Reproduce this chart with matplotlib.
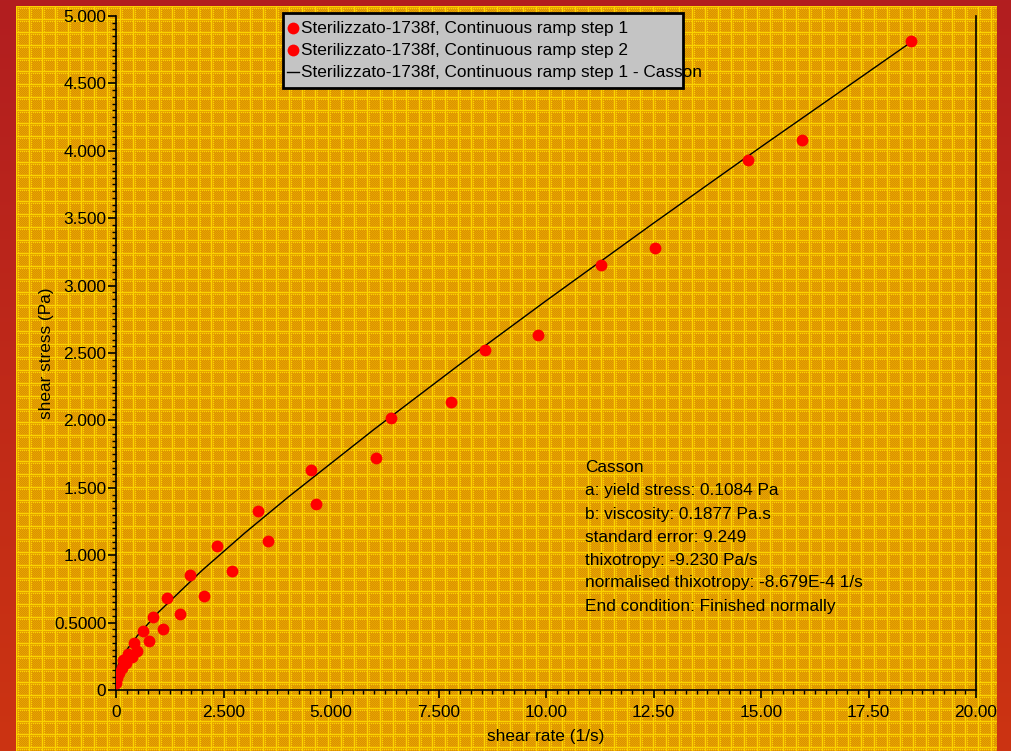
import numpy as np
import matplotlib
matplotlib.use("Agg")
import matplotlib.pyplot as plt
from matplotlib.ticker import MultipleLocator, FixedLocator, FixedFormatter
from matplotlib.patches import Rectangle
from matplotlib.lines import Line2D

plt.rcParams['font.family'] = ['Liberation Sans', 'DejaVu Sans']

# step 1 (up ramp)
rate_1 = [0.08, 0.17, 0.27, 0.42, 0.63, 0.86, 1.19, 1.72, 2.35, 3.30,
          4.53, 6.40, 8.58, 11.28, 14.70, 18.49]
stress_1 = [0.126, 0.22, 0.27, 0.35, 0.44, 0.54, 0.68, 0.85, 1.07, 1.33,
            1.63, 2.02, 2.52, 3.15, 3.93, 4.815]

# step 2 (down ramp)
rate_2 = [0.005, 0.03, 0.13, 0.23, 0.365, 0.49, 0.77, 1.09, 1.49, 2.05,
          2.70, 3.53, 4.65, 6.05, 7.79, 9.81, 12.53, 15.95]
stress_2 = [0.05, 0.089, 0.163, 0.198, 0.247, 0.29, 0.36, 0.45, 0.564, 0.70,
            0.88, 1.105, 1.38, 1.72, 2.14, 2.63, 3.28, 4.08]

# Casson fit line
fit_rate = [0, 0.05, 0.1, 0.25, 0.5, 1, 2, 3, 4, 6, 8, 10, 12.5, 15, 18.49]
fit_stress = [0.108, 0.182, 0.217, 0.298, 0.404, 0.581, 0.887, 1.166, 1.430,
              1.933, 2.417, 2.887, 3.463, 4.029, 4.806]

x_ticks = [0, 2.5, 5, 7.5, 10, 12.5, 15, 17.5, 20]
x_labels = ['0', '2.500', '5.000', '7.500', '10.00', '12.50', '15.00', '17.50', '20.00']
y_ticks = [0, 0.5, 1, 1.5, 2, 2.5, 3, 3.5, 4, 4.5, 5]
y_labels = ['0', '0.5000', '1.000', '1.500', '2.000', '2.500', '3.000',
            '3.500', '4.000', '4.500', '5.000']

legend_labels = ['Sterilizzato-1738f, Continuous ramp step 1',
                 'Sterilizzato-1738f, Continuous ramp step 2',
                 'Sterilizzato-1738f, Continuous ramp step 1 - Casson']

info_lines = ['Casson',
              'a: yield stress: 0.1084 Pa',
              'b: viscosity: 0.1877 Pa.s',
              'standard error: 9.249',
              'thixotropy: -9.230 Pa/s',
              'normalised thixotropy: -8.679E-4 1/s',
              'End condition: Finished normally']

FS = 12.4
MS = 8.5
W, H = 1012, 751
fig = plt.figure(figsize=(W / 100, H / 100), dpi=100)

# background: red frame with gradient, textured gold panel
img = np.zeros((H, W, 3))
t = np.linspace(0, 1, H)[:, None]
top = np.array([178, 30, 32]) / 255
bot = np.array([204, 52, 18]) / 255
img[:] = (top * (1 - t) + bot * t)[:, None, :]

tile = np.zeros((13, 13, 3))
base = np.array([232, 164, 0]) / 255
dark = np.array([218, 146, 0]) / 255
yel = np.array([250, 212, 0]) / 255
tile[:] = base
for i in range(13):
    for j in range(13):
        if 3 <= i <= 11 and 3 <= j <= 11 and (i + j) % 2 == 0:
            tile[i, j] = dark
tile[0, :] = yel
tile[:, 0] = yel
tile[2, ::2] = yel
tile[::2, 2] = yel
ph, pw = H - 6, 997 - 16
reps = np.tile(tile, (ph // 13 + 1, pw // 13 + 1, 1))[:ph, :pw]
img[6:, 16:997] = reps
fig.figimage(img, xo=0, yo=0, origin='upper', zorder=-10)

ax = fig.add_axes([116 / W, (H - 690) / H, (976 - 116) / W, (690 - 16) / H])
ax.patch.set_visible(False)
ax.set_zorder(2)

ax.plot(fit_rate, fit_stress, color='black', lw=1, zorder=2)
ax.plot(rate_1, stress_1, 'o', color='#ff0000', ms=MS, mec='none', zorder=3)
ax.plot(rate_2, stress_2, 'o', color='#ff0000', ms=MS, mec='none', zorder=3)

ax.set_xlim(0, 20)
ax.set_ylim(0, 5)
ax.spines['top'].set_visible(False)
for s in ['left', 'bottom', 'right']:
    ax.spines[s].set_linewidth(1.2)
ax.xaxis.set_major_locator(FixedLocator(x_ticks))
ax.xaxis.set_major_formatter(FixedFormatter(x_labels))
ax.yaxis.set_major_locator(FixedLocator(y_ticks))
ax.yaxis.set_major_formatter(FixedFormatter(y_labels))
ax.xaxis.set_minor_locator(MultipleLocator(0.25))
ax.yaxis.set_minor_locator(MultipleLocator(0.05))
ax.tick_params(which='major', length=5.5, width=1.2, labelsize=FS, pad=1.5)
ax.tick_params(axis='x', which='major', pad=5.5)
ax.tick_params(which='minor', length=3, width=1)
ax.tick_params(axis='y', right=False)
ax.set_xlabel('shear rate (1/s)', fontsize=FS, labelpad=6)
ax.set_ylabel('shear stress (Pa)', fontsize=FS, labelpad=0)

# legend box drawn by hand (text overflows the frame like the original)
fig.patches.append(Rectangle((283 / W, (H - 88) / H), 400 / W, 75 / H,
                             transform=fig.transFigure, facecolor='#c4c4c4',
                             edgecolor='black', lw=2, zorder=5))
rows_y = [28, 50, 72]
for k, (lab, yy) in enumerate(zip(legend_labels, rows_y)):
    yf = (H - yy) / H
    if k < 2:
        fig.lines.append(Line2D([293 / W], [yf], marker='o', color='#ff0000',
                                ms=MS, mec='none', transform=fig.transFigure,
                                zorder=6))
    else:
        fig.lines.append(Line2D([287 / W, 299 / W], [yf, yf], color='black',
                                lw=1, transform=fig.transFigure, zorder=6))
    fig.text(301 / W, yf, lab, fontsize=FS, va='center', ha='left', zorder=7)

for k, line in enumerate(info_lines):
    fig.text(585 / W, (H - 468 - k * 23) / H, line, fontsize=FS,
             va='center', ha='left')

fig.savefig('out.png', dpi=100)
